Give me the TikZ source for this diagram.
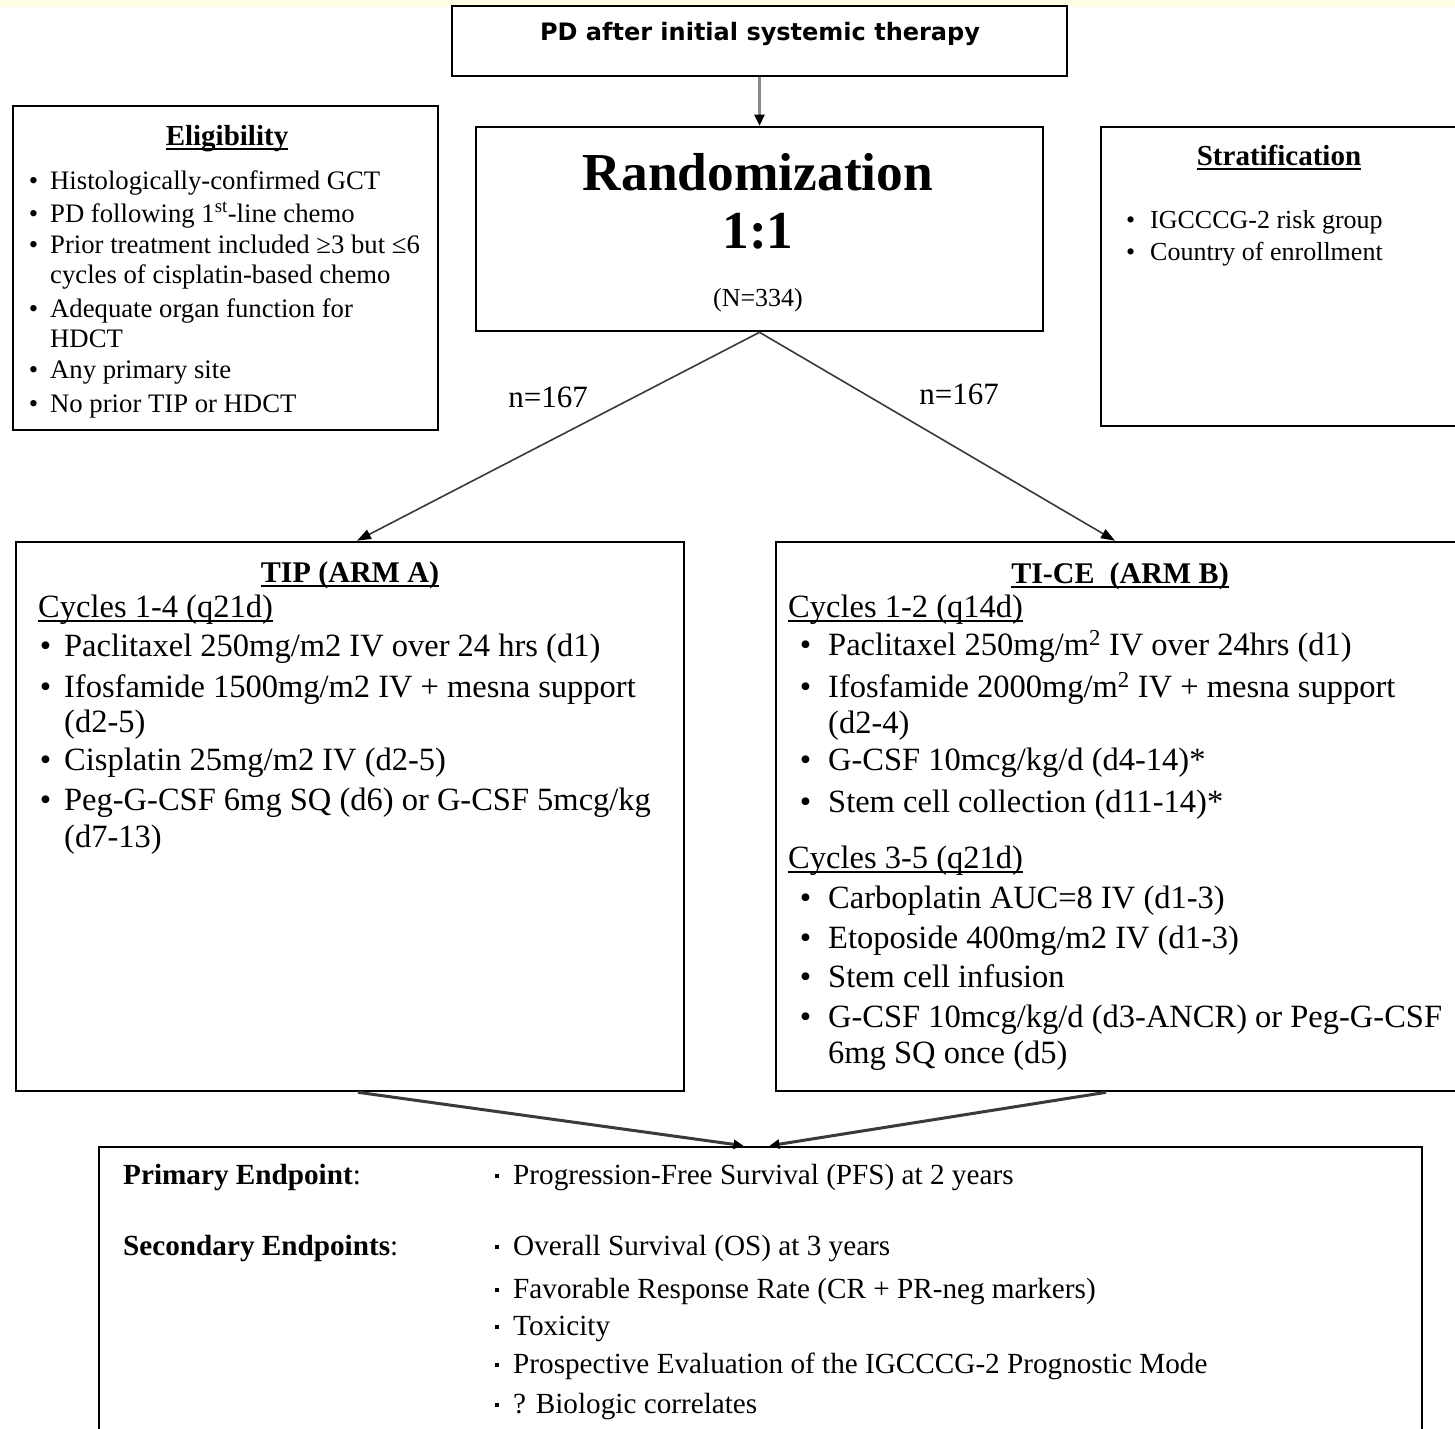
\documentclass[tikz,border=0pt]{standalone}
\usepackage{fontspec}
\setmainfont{Liberation Serif}
\newfontfamily\pdfont{DejaVu Sans}
\usetikzlibrary{arrows.meta}
\definecolor{topbg}{HTML}{FFFDE3}
\definecolor{lgray}{HTML}{8A8A8A}
\definecolor{dgray}{HTML}{3A3A3A}
\newcommand\fs[1]{\fontsize{#1}{#1}\selectfont}
\newcommand\bul[1]{\llap{\textbullet\hspace{#1}}}
\newcommand\sqb{\llap{\rule[0.22em]{4pt}{4pt}\hspace{14pt}}}
\newsavebox\myulbox
\newcommand\myul[1]{\sbox\myulbox{#1}\rlap{\rule[-5pt]{\wd\myulbox}{1.8pt}}\usebox\myulbox}
\tikzset{
  box/.style={draw=black, line width=2.6pt, inner sep=0pt},
  txl/.style={inner sep=0pt, anchor=base west},
  txc/.style={inner sep=0pt, anchor=base},
  eligtxt/.style={txl, font=\fs{26.7}},
  strattxt/.style={txl, font=\fs{26}},
  armtxt/.style={txl, font=\fs{32.5}},
  endtxt/.style={txl, font=\fs{29.2}},
  headtxt/.style={txc, font=\fs{29}\bfseries},
  armhead/.style={txc, font=\fs{30}\bfseries},
  nlab/.style={txc, font=\fs{31}},
  thinarrow/.style={draw=dgray, line width=1.6pt, -{Triangle[length=14pt,width=10pt,color=black]}},
  grayarrow/.style={draw=lgray, line width=2.4pt, -{Triangle[length=11pt,width=10pt,color=black]}},
  thickarrow/.style={draw=dgray, line width=3pt, -{Triangle[length=10pt,width=9pt,color=black]}}
}
\begin{document}
\begin{tikzpicture}[x=1pt,y=-1pt]
\useasboundingbox (0,0) rectangle (1455,1428);
\clip (0,0) rectangle (1455,1428);
\fill[white] (0,0) rectangle (1455,1428);
\fill[topbg] (0,0) rectangle (1455,7);

% boxes
\node[box, minimum width=615pt, minimum height=70pt] (pd) at (759.5,41) {};
\node[box, minimum width=567pt, minimum height=204pt] (rand) at (759.5,229) {};
\node[box, minimum width=425pt, minimum height=324pt] (elig) at (225.5,268) {};
\node[box, minimum width=369pt, minimum height=299pt] (strat) at (1285.5,276.5) {};
\node[box, minimum width=668pt, minimum height=549pt] (armA) at (350,816.5) {};
\node[box, minimum width=694pt, minimum height=549pt] (armB) at (1123,816.5) {};
\node[box, minimum width=1323pt, minimum height=303pt] (endp) at (760.5,1298.5) {};

% PD text
\node[txc, font=\pdfont\fs{24}\bfseries] (pdt) at (760,40) {PD after initial systemic therapy};

% Randomization
\node[txc, font=\fs{53.4}\bfseries] (r1) at (758,190) {Randomization};
\node[txc, font=\fs{53.4}\bfseries] (r2) at (758,248) {1:1};
\node[txc, font=\fs{26}] (r3) at (758,306) {(N=334)};

% Eligibility
\node[headtxt] (eT) at (227,145) {\myul{Eligibility}};
\node[eligtxt] (e1) at (50,189) {\bul{12pt}Histologically-confirmed GCT};
\node[eligtxt] (e2) at (50,222) {\bul{12pt}PD following 1\textsuperscript{st}-line chemo};
\node[eligtxt] (e3) at (50,253) {\bul{12pt}Prior treatment included ≥3 but ≤6};
\node[eligtxt] (e4) at (50,283) {cycles of cisplatin-based chemo};
\node[eligtxt] (e5) at (50,317) {\bul{12pt}Adequate organ function for};
\node[eligtxt] (e6) at (50,347) {HDCT};
\node[eligtxt] (e7) at (50,378) {\bul{12pt}Any primary site};
\node[eligtxt] (e8) at (50,412) {\bul{12pt}No prior TIP or HDCT};

% Stratification
\node[headtxt] (sT) at (1279,165) {\myul{Stratification}};
\node[strattxt] (s1) at (1150,228) {\bul{15pt}IGCCCG-2 risk group};
\node[strattxt] (s2) at (1150,260) {\bul{15pt}Country of enrollment};

% n labels
\node[nlab] (nA) at (548,407) {n=167};
\node[nlab] (nB) at (959,404) {n=167};

% Arm A
\node[armhead] (aT) at (350,582) {\myul{TIP (ARM A)}};
\node[armtxt] (aC) at (38,617) {\myul{Cycles 1-4 (q21d)}};
\node[armtxt] (a1) at (64,656) {\bul{13pt}Paclitaxel 250mg/m2 IV over 24 hrs (d1)};
\node[armtxt] (a2) at (64,697) {\bul{13pt}Ifosfamide 1500mg/m2 IV + mesna support};
\node[armtxt] (a3) at (64,732) {(d2-5)};
\node[armtxt] (a4) at (64,770) {\bul{13pt}Cisplatin 25mg/m2 IV (d2-5)};
\node[armtxt] (a5) at (64,810) {\bul{13pt}Peg-G-CSF 6mg SQ (d6) or G-CSF 5mcg/kg};
\node[armtxt] (a6) at (64,847) {(d7-13)};

% Arm B
\node[armhead] (bT) at (1120,583) {\myul{TI-CE\ \ (ARM B)}};
\node[armtxt] (bC1) at (788,617) {\myul{Cycles 1-2 (q14d)}};
\node[armtxt] (b1) at (828,655) {\bul{17pt}Paclitaxel 250mg/m\textsuperscript{2} IV over 24hrs (d1)};
\node[armtxt] (b2) at (828,697) {\bul{17pt}Ifosfamide 2000mg/m\textsuperscript{2} IV + mesna support};
\node[armtxt] (b3) at (828,733) {(d2-4)};
\node[armtxt] (b4) at (828,770) {\bul{17pt}G-CSF 10mcg/kg/d (d4-14)*};
\node[armtxt] (b5) at (828,812) {\bul{17pt}Stem cell collection (d11-14)*};
\node[armtxt] (bC2) at (788,868) {\myul{Cycles 3-5 (q21d)}};
\node[armtxt] (b6) at (828,908) {\bul{17pt}Carboplatin AUC=8 IV (d1-3)};
\node[armtxt] (b7) at (828,948) {\bul{17pt}Etoposide 400mg/m2 IV (d1-3)};
\node[armtxt] (b8) at (828,987) {\bul{17pt}Stem cell infusion};
\node[armtxt] (b9) at (828,1027) {\bul{17pt}G-CSF 10mcg/kg/d (d3-ANCR) or Peg-G-CSF};
\node[armtxt] (b10) at (828,1063) {6mg SQ once (d5)};

% Endpoints
\node[endtxt] (pL) at (123,1184) {\textbf{Primary Endpoint}:};
\node[endtxt] (sL) at (123,1255) {\textbf{Secondary Endpoints}:};
\node[endtxt] (p1) at (513,1184) {\sqb Progression-Free Survival (PFS) at 2 years};
\node[endtxt] (q1) at (513,1255) {\sqb Overall Survival (OS) at 3 years};
\node[endtxt] (q2) at (513,1298) {\sqb Favorable Response Rate (CR + PR-neg markers)};
\node[endtxt] (q3) at (513,1335) {\sqb Toxicity};
\node[endtxt] (q4) at (513,1373) {\sqb Prospective Evaluation of the IGCCCG-2 Prognostic Mode};
\node[endtxt] (q5) at (513,1413) {\sqb ? Biologic correlates};

% connectors
\draw[grayarrow] (pd.south) -- (rand.north);
\draw[thinarrow] (rand.south) -- ([xshift=7pt]armA.north);
\draw[thinarrow] (rand.south) -- ([xshift=-8pt]armB.north);
\draw[thickarrow] ([xshift=8pt]armA.south) -- ([xshift=-17pt]endp.north);
\draw[thickarrow] ([xshift=-17pt]armB.south) -- ([xshift=9pt]endp.north);
\end{tikzpicture}
\end{document}
